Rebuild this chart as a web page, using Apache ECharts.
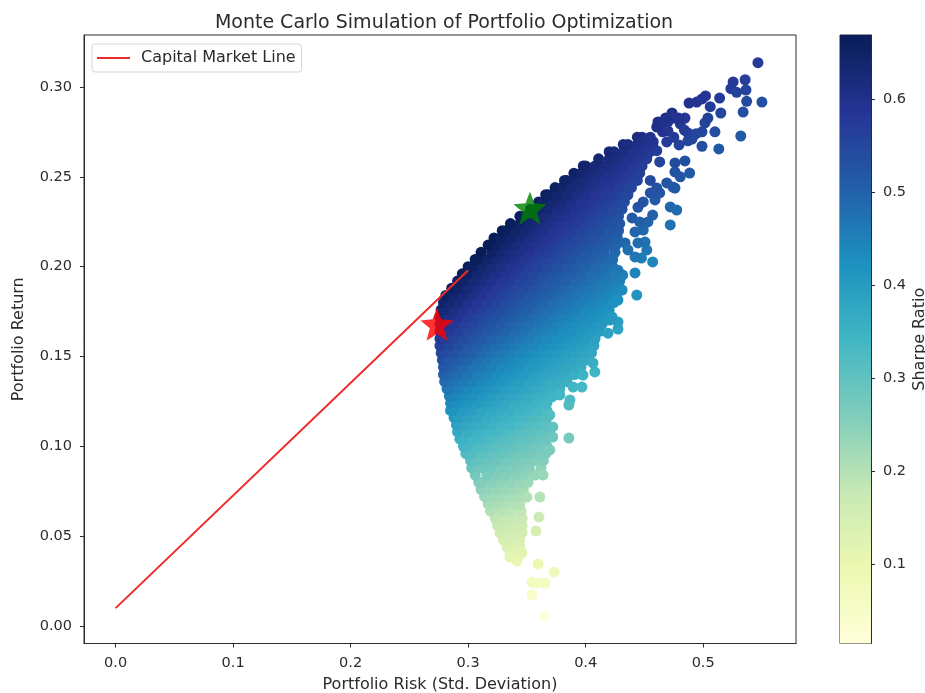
<!DOCTYPE html>
<html><head><meta charset="utf-8">
<style>html,body{margin:0;padding:0;background:#fff}#c{width:925px;height:693px}</style>
<script src="https://cdn.jsdelivr.net/npm/echarts@6/dist/echarts.min.js"></script>
</head><body><div id="c"></div>
<script>
// Dense body of the cloud: one return level per row, with the risks seen on it.
const rowReturns = [.040,.044,.048,.052,.056,.060,.064,.068,.072,.076,.080,.084,.088,.092,.096,.100,.104,.108,.112,.116,.120,.124,.128,.132,.136,.140,.144,.148,.152,.156,.160,.164,.168,.172,.176,.180,.184,.188,.192,.196,.200,.204,.208,.212,.216,.220,.224,.228,.232,.236,.240,.244,.248,.252,.256,.260,.264,.268,.272];
const rowRisks = [
[.336,.344],
[.333,.340,.344],
[.330,.336,.344],
[.327,.332,.340,.346],
[.325,.328,.336,.344,.346],
[.323,.332,.340,.346],
[.319,.328,.336,.345],
[.317,.324,.332,.340,.344],
[.314,.320,.328,.336,.343],
[.311,.316,.324,.332,.340,.347],
[.309,.312,.320,.328,.336,.344,.351],
[.306,.316,.324,.332,.340,.348,.357],
[.303,.312,.320,.328,.336,.344,.352,.362],
[.302,.308,.316,.324,.332,.340,.348,.356,.364],
[.298,.304,.312,.320,.328,.336,.344,.352,.360,.366],
[.296,.300,.308,.316,.324,.332,.340,.348,.356,.364,.367],
[.293,.296,.304,.312,.320,.328,.336,.344,.352,.360,.367],
[.291,.300,.308,.316,.324,.332,.340,.348,.356,.364,.367],
[.290,.296,.304,.312,.320,.328,.336,.344,.352,.360,.367],
[.288,.292,.300,.308,.316,.324,.332,.340,.348,.356,.364,.367],
[.285,.288,.296,.304,.312,.320,.328,.336,.344,.352,.360,.367],
[.285,.292,.300,.308,.316,.324,.332,.340,.348,.356,.364,.367],
[.284,.288,.296,.304,.312,.320,.328,.336,.344,.352,.360,.368,.372],
[.282,.284,.292,.300,.308,.316,.324,.332,.340,.348,.356,.364,.372,.378],
[.280,.288,.296,.304,.312,.320,.328,.336,.344,.352,.360,.368,.376,.384],
[.279,.284,.292,.300,.308,.316,.324,.332,.340,.348,.356,.364,.372,.380,.388,.391],
[.279,.280,.288,.296,.304,.312,.320,.328,.336,.344,.352,.360,.368,.376,.384,.392,.396],
[.278,.284,.292,.300,.308,.316,.324,.332,.340,.348,.356,.364,.372,.380,.388,.396,.401],
[.277,.280,.288,.296,.304,.312,.320,.328,.336,.344,.352,.360,.368,.376,.384,.392,.400,.405],
[.276,.284,.292,.300,.308,.316,.324,.332,.340,.348,.356,.364,.372,.380,.388,.396,.404,.407],
[.276,.280,.288,.296,.304,.312,.320,.328,.336,.344,.352,.360,.368,.376,.384,.392,.400,.408],
[.276,.284,.292,.300,.308,.316,.324,.332,.340,.348,.356,.364,.372,.380,.388,.396,.404,.412],
[.276,.280,.288,.296,.304,.312,.320,.328,.336,.344,.352,.360,.368,.376,.384,.392,.400,.408,.414],
[.276,.284,.292,.300,.308,.316,.324,.332,.340,.348,.356,.364,.372,.380,.388,.396,.404,.412,.417],
[.277,.280,.288,.296,.304,.312,.320,.328,.336,.344,.352,.360,.368,.376,.384,.392,.400,.408,.416,.420],
[.279,.284,.292,.300,.308,.316,.324,.332,.340,.348,.356,.364,.372,.380,.388,.396,.404,.412,.420,.424],
[.281,.288,.296,.304,.312,.320,.328,.336,.344,.352,.360,.368,.376,.384,.392,.400,.408,.416,.424,.426],
[.286,.292,.300,.308,.316,.324,.332,.340,.348,.356,.364,.372,.380,.388,.396,.404,.412,.420,.428],
[.291,.296,.304,.312,.320,.328,.336,.344,.352,.360,.368,.376,.384,.392,.400,.408,.416,.424,.429],
[.295,.300,.308,.316,.324,.332,.340,.348,.356,.364,.372,.380,.388,.396,.404,.412,.420,.425],
[.300,.304,.312,.320,.328,.336,.344,.352,.360,.368,.376,.384,.392,.400,.408,.416,.423],
[.306,.308,.316,.324,.332,.340,.348,.356,.364,.372,.380,.388,.396,.404,.412,.420,.423],
[.311,.320,.328,.336,.344,.352,.360,.368,.376,.384,.392,.400,.408,.416,.425],
[.317,.324,.332,.340,.348,.356,.364,.372,.380,.388,.396,.404,.412,.420,.426],
[.322,.328,.336,.344,.352,.360,.368,.376,.384,.392,.400,.408,.416,.424,.427],
[.329,.332,.340,.348,.356,.364,.372,.380,.388,.396,.404,.412,.420,.428],
[.336,.344,.352,.360,.368,.376,.384,.392,.400,.408,.416,.424,.429],
[.344,.348,.356,.364,.372,.380,.388,.396,.404,.412,.420,.428],
[.353,.360,.368,.376,.384,.392,.400,.408,.416,.424,.431],
[.360,.364,.372,.380,.388,.396,.404,.412,.420,.428,.433],
[.366,.368,.376,.384,.392,.400,.408,.416,.424,.432,.436],
[.374,.380,.388,.396,.404,.412,.420,.428,.436,.439],
[.382,.384,.392,.400,.408,.416,.424,.432,.440,.444],
[.390,.396,.404,.412,.420,.428,.436,.444,.446],
[.398,.400,.408,.416,.424,.432,.440,.448],
[.411,.420,.428,.436,.444,.452],
[.420,.424,.432,.440,.448,.455],
[.432,.436,.444,.452,.457],
[.444,.448,.455]
];
// Scattered points around the edge of the cloud, read one by one.
const edgeRisk = [.3653,.3543,.3543,.3586,.3653,.3731,.3595,.3355,.3416,.3457,.3577,.3603,.35,.361,.3637,.3695,.3857,.372,.372,.3695,.3857,.3866,.3713,.378,.3893,.3968,.3713,.3977,.4078,.4062,.419,.4275,.4275,.4205,.4225,.4275,.4435,.431,.4315,.442,.4475,.442,.457,.452,.4505,.4445,.449,.453,.4395,.457,.472,.472,.4775,.459,.463,.476,.469,.4605,.4743,.4805,.476,.4885,.463,.476,.4845,.4605,.4575,.4795,.469,.4655,.4605,.4615,.4735,.476,.4845,.47,.4805,.487,.4905,.499,.499,.51,.5015,.504,.506,.488,.4945,.499,.502,.514,.515,.5133,.5255,.5357,.5236,.5285,.5364,.537,.534,.532,.5466,.55,.449,.4445,.4335,.436,.442,.446,.455,.455,.4275,.468,.4655,.479,.47,.475,.484,.487,.494];
const edgeReturn = [.0056,.0173,.0245,.024,.0239,.03,.0345,.0384,.0362,.0406,.0529,.0607,.0718,.0718,.084,.098,.1046,.1052,.1108,.1174,.123,.1258,.1275,.1286,.133,.133,.1341,.1397,.1414,.1464,.163,.1653,.1692,.1703,.172,.1814,.1842,.187,.1953,.1965,.2048,.2054,.2026,.2093,.2137,.2132,.2204,.2249,.2271,.2287,.2232,.2332,.2315,.2371,.241,.2437,.2466,.2438,.2443,.25,.2527,.2521,.2583,.2577,.2588,.2645,.2695,.2677,.2694,.275,.2777,.2805,.2855,.2827,.2827,.2805,.2795,.2744,.271,.267,.275,.275,.28,.2827,.289,.291,.2916,.2933,.295,.2938,.2855,.2655,.3028,.304,.299,.297,.2983,.292,.286,.2727,.3135,.2916,.236,.233,.2132,.2093,.2193,.2249,.241,.248,.198,.2827,.2805,.2827,.2755,.272,.276,.27,.274];
const cmlRisk = [0, 0.3];
const cmlReturn = [0.01, 0.198];
const maxSharpePoint = [0.3526, 0.2326];
const minVolPoint = [0.2734, 0.168];
const sharpeRange = [0.0145, 0.669];
const xTicks = [0, 0.1, 0.2, 0.3, 0.4, 0.5];
const yTicks = [0, 0.05, 0.1, 0.15, 0.2, 0.25, 0.3];
const cbTicks = [0.1, 0.2, 0.3, 0.4, 0.5, 0.6];
const ylGnBu = ['#ffffd9','#edf8b1','#c7e9b4','#7fcdbb','#41b6c4','#1d91c0','#225ea8','#253494','#081d58'];

// Sharpe Ratio is return / risk, which is how the colours in the picture run.
const cloud = [];
rowReturns.forEach((ret, i) => rowRisks[i].forEach(risk => cloud.push([risk, ret, ret / risk])));
edgeRisk.forEach((risk, i) => cloud.push([risk, edgeReturn[i], edgeReturn[i] / risk]));

const FONT = '"DejaVu Sans"', INK = '#2b2b2b', FS = 14.5, NAME_FS = 16;
const star = 'path://M50,0 L63,33 L99,36 L71,58 L81,93 L50,74 L19,93 L29,58 L1,36 L37,33 Z';
const axisCommon = {
  axisLine: {show: true, onZero: false, lineStyle: {color: INK, width: 1}},
  splitLine: {show: false},
  nameLocation: 'middle',
  nameTextStyle: {fontFamily: FONT, fontSize: NAME_FS, color: INK}
};
const tick = vals => ({show: true, length: 4, customValues: vals, lineStyle: {color: INK, width: 1}});
const lab = (vals, d) => ({customValues: vals, fontFamily: FONT, fontSize: FS, color: INK, margin: 12, formatter: v => v.toFixed(d)});

const chart = echarts.init(document.getElementById('c'), null, {renderer: 'canvas'});
chart.setOption({
  animation: false,
  backgroundColor: '#fff',
  title: {text: 'Monte Carlo Simulation of Portfolio Optimization', left: 439, top: 9, textAlign: 'center',
    textStyle: {fontFamily: FONT, fontSize: 19, fontWeight: 'normal', color: INK}},
  legend: {left: 92, top: 44, data: ['Capital Market Line'], icon: 'rect', backgroundColor: '#fff', borderColor: '#d5d5d5', borderWidth: 1, borderRadius: 3,
    padding: [6, 6, 6, 5], itemWidth: 33, itemHeight: 2, itemGap: 0,
    textStyle: {fontFamily: FONT, fontSize: NAME_FS, color: INK, padding: [0, 0, 0, 6]}},
  grid: [
    {left: 84, top: 35, width: 712, height: 608.5, show: true, borderColor: INK, borderWidth: 1, backgroundColor: 'transparent', outerBoundsMode: 'none'},
    {left: 840, top: 35, width: 31, height: 608.5, show: true, borderColor: INK, borderWidth: 1, backgroundColor: 'transparent', outerBoundsMode: 'none'}
  ],
  xAxis: [
    Object.assign({}, axisCommon, {gridIndex: 0, type: 'value', min: -0.0269, max: 0.579, name: 'Portfolio Risk (Std. Deviation)', nameGap: 33,
      axisTick: tick(xTicks), axisLabel: lab(xTicks, 1)}),
    {gridIndex: 1, type: 'category', data: ['Sharpe Ratio'], axisLine: {show: false}, axisTick: {show: false}, axisLabel: {show: false}}
  ],
  yAxis: [
    Object.assign({}, axisCommon, {gridIndex: 0, type: 'value', min: -0.0097, max: 0.3289, name: 'Portfolio Return', nameGap: 57,
      axisTick: tick(yTicks), axisLabel: lab(yTicks, 2)}),
    Object.assign({}, axisCommon, {gridIndex: 1, type: 'value', position: 'right', min: sharpeRange[0], max: sharpeRange[1], name: 'Sharpe Ratio', nameGap: 41,
      nameRotate: 90, axisTick: tick(cbTicks), axisLabel: lab(cbTicks, 1)})
  ],
  visualMap: {show: false, type: 'continuous', seriesIndex: 0, dimension: 2, min: sharpeRange[0], max: sharpeRange[1], inRange: {color: ylGnBu}},
  series: [
    {type: 'scatter', name: 'Portfolios', xAxisIndex: 0, yAxisIndex: 0, data: cloud, symbolSize: 11, progressive: 0, large: false, silent: true, z: 2, itemStyle: {opacity: 1}},
    {type: 'line', name: 'Capital Market Line', xAxisIndex: 0, yAxisIndex: 0, data: cmlRisk.map((r, i) => [r, cmlReturn[i]]), symbol: 'none', lineStyle: {color: '#ee2a2a', width: 2}, itemStyle: {color: '#ee2a2a'}, z: 3},
    {type: 'scatter', name: 'Max Sharpe', xAxisIndex: 0, yAxisIndex: 0, data: [maxSharpePoint], symbol: star, symbolSize: 33, itemStyle: {color: '#008000'}, z: 4},
    {type: 'scatter', name: 'Min Vol', xAxisIndex: 0, yAxisIndex: 0, data: [minVolPoint], symbol: star, symbolSize: 33, itemStyle: {color: '#ff0000'}, z: 4},
    {type: 'bar', name: 'Colorbar', xAxisIndex: 1, yAxisIndex: 1, data: [sharpeRange[1]], barWidth: '100%', silent: true, z: 1,
      itemStyle: {color: new echarts.graphic.LinearGradient(0, 1, 0, 0, ylGnBu.map((c, i) => ({offset: i / (ylGnBu.length - 1), color: c})))}}
  ]
});
</script></body></html>
